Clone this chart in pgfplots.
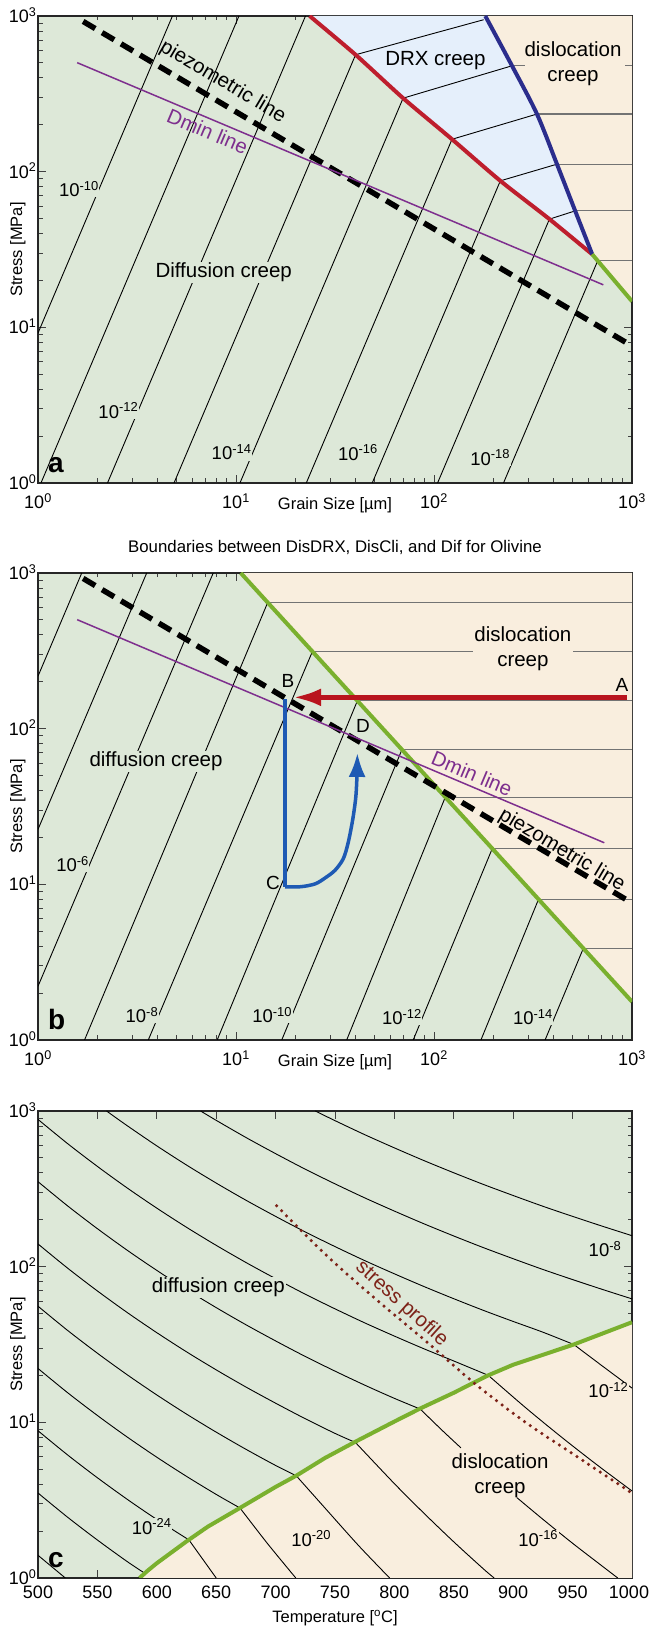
\documentclass[border=0pt]{standalone}
\usepackage{pgfplots}
\pgfplotsset{compat=1.18}
\usepackage{fontspec}
\setmainfont{Liberation Sans}
\usetikzlibrary{arrows.meta}

\definecolor{bggreen}{RGB}{221,232,216}
\definecolor{bgbeige}{RGB}{249,238,222}
\definecolor{bgblue}{RGB}{229,239,251}
\definecolor{lred}{RGB}{190,30,45}
\definecolor{lblue}{RGB}{43,45,140}
\definecolor{lgreen}{RGB}{122,176,46}
\definecolor{lpurple}{RGB}{126,47,142}
\definecolor{arrred}{RGB}{185,20,30}
\definecolor{arrblue}{RGB}{30,90,180}
\definecolor{profile}{RGB}{125,35,25}

\newcommand{\tfont}{\fontsize{18}{20}\selectfont}
\newcommand{\afont}{\fontsize{20.5}{25}\selectfont}
\newcommand{\lfont}{\fontsize{16.5}{19}\selectfont}
\newcommand{\pfont}{\fontsize{19}{22}\selectfont}
\newcommand{\E}[1]{10\textsuperscript{#1}}

\tikzset{
  clab/.style={font=\fontsize{18.5}{20}\selectfont, fill=bggreen, inner sep=0.5pt},
  plet/.style={font=\fontsize{28}{30}\selectfont\bfseries, anchor=base west, inner sep=0pt},
}

\pgfplotsset{
  base/.style={
    scale only axis, width=594pt, height=467pt, anchor=south west,
    ymin=0, ymax=3,
    axis background/.style={fill=bggreen},
    axis line style={draw=black!85, line width=1.2pt},
    tick style={draw=black!75, line width=1pt},
    major tick length=8pt, minor tick length=4.5pt,
    ytick={0,1,2,3}, yticklabels={\E{0},\E{1},\E{2},\E{3}},
    minor ytick={0.301,0.477,0.602,0.699,0.778,0.845,0.903,0.954,1.301,1.477,1.602,1.699,1.778,1.845,1.903,1.954,2.301,2.477,2.602,2.699,2.778,2.845,2.903,2.954},
    tick label style={font=\tfont},
    yticklabel style={anchor=base east, inner xsep=1.5pt, yshift=-6.5pt},
    ylabel={Stress [MPa]},
    ylabel style={font=\lfont, at={(axis description cs:-0.0337,0.5)}, anchor=center},
    scaled ticks=false,
  },
  logx/.style={
    xmin=0, xmax=3, xtick={0,1,2,3}, xticklabels={\E{0},\E{1},\E{2},\E{3}},
    minor xtick={0.301,0.477,0.602,0.699,0.778,0.845,0.903,0.954,1.301,1.477,1.602,1.699,1.778,1.845,1.903,1.954,2.301,2.477,2.602,2.699,2.778,2.845,2.903,2.954},
    xticklabel style={anchor=base, yshift=-26pt},
    xlabel={Grain Size [µm]},
    xlabel style={font=\lfont, at={(axis description cs:0.5,-0.048)}, anchor=center},
  },
  cline/.style={black, line width=0.9pt},
  hline/.style={black!55, line width=1.1pt},
  bnd/.style={line width=4pt},
  piezo/.style={black, line width=5.5pt, dash pattern=on 14pt off 8pt},
  dmin/.style={lpurple, line width=1.5pt},
}

\begin{document}
\begin{tikzpicture}
\useasboundingbox (0,0) rectangle (649pt,1629pt);

%%%%%%%%%%%%%%%% panel a
\begin{axis}[base, logx, at={(38pt,1146pt)}]
\addplot[fill=bgblue, draw=none, smooth, tension=0.4] coordinates {(1.372,3)(1.604,2.751)(1.844,2.472)(2.091,2.208)(2.335,1.941)(2.583,1.695)(2.799,1.469)(2.713,1.748)(2.621,2.048)(2.520,2.370)(2.394,2.680)(2.259,3)} -- cycle;
\addplot[fill=bgbeige, draw=none] coordinates {(2.259,3)(2.394,2.680)(2.520,2.370)(2.621,2.048)(2.713,1.748)(2.799,1.469)(3,1.167)(3,3)} -- cycle;
% strain-rate contours
\addplot[cline] coordinates {(0,0.963)(0.679,3)};
\addplot[cline] coordinates {(0.015,0)(1.015,3)};
\addplot[cline] coordinates {(0.351,0)(1.351,3)};
\addplot[cline] coordinates {(0.687,0)(1.604,2.751)(2.251,2.976)};
\addplot[cline] coordinates {(1.020,0)(1.844,2.472)(2.394,2.680)};
\addplot[cline] coordinates {(1.355,0)(2.091,2.208)(2.520,2.370)};
\addplot[cline] coordinates {(1.688,0)(2.335,1.941)(2.621,2.048)};
\addplot[cline] coordinates {(2.018,0)(2.583,1.695)(2.713,1.748)};
\addplot[cline] coordinates {(2.351,0)(2.827,1.428)};
\addplot[hline] coordinates {(2.394,2.680)(2.460,2.680)};
\addplot[hline] coordinates {(2.965,2.680)(3,2.680)};
\addplot[hline] coordinates {(2.520,2.370)(3,2.370)};
\addplot[hline] coordinates {(2.621,2.048)(3,2.048)};
\addplot[hline] coordinates {(2.713,1.748)(3,1.748)};
\addplot[hline] coordinates {(2.827,1.428)(3,1.428)};
% boundaries
\addplot[bnd, lred, smooth, tension=0.4] coordinates {(1.372,3)(1.604,2.751)(1.844,2.472)(2.091,2.208)(2.335,1.941)(2.583,1.695)(2.799,1.469)};
\addplot[bnd, lblue, smooth, tension=0.5] coordinates {(2.259,3)(2.394,2.680)(2.520,2.370)(2.621,2.048)(2.713,1.748)(2.799,1.469)};
\addplot[bnd, lgreen] coordinates {(2.799,1.469)(3,1.167)};
\addplot[piezo] coordinates {(0.228,2.965)(3,0.880)};
\addplot[dmin] coordinates {(0.198,2.700)(2.855,1.273)};
% labels
\node[font=\afont, rotate=-30.7] at (axis cs:0.933,2.576) {piezometric line};
\node[font=\afont, rotate=-22.9, text=lpurple] at (axis cs:0.857,2.260) {Dmin line};
\node[font=\afont, fill=bggreen, inner sep=1pt] at (axis cs:0.938,1.354) {Diffusion creep};
\node[font=\afont] at (axis cs:2.007,2.711) {DRX creep};
\node[font=\afont, align=center] at (axis cs:2.702,2.695) {dislocation\\creep};
\node[clab] at (axis cs:0.207,1.887) {\E{-10}};
\node[clab] at (axis cs:0.406,0.466) {\E{-12}};
\node[clab] at (axis cs:0.978,0.196) {\E{-14}};
\node[clab] at (axis cs:1.616,0.196) {\E{-16}};
\node[clab] at (axis cs:2.284,0.164) {\E{-18}};
\node[plet] at (axis cs:0.05,0.07) {a};
\end{axis}

%%%%%%%%%%%%%%%% panel b
\begin{axis}[base, logx, at={(38pt,589pt)},
  title={Boundaries between DisDRX, DisCli, and Dif for Olivine},
  title style={font=\fontsize{16.8}{19}\selectfont, at={(axis description cs:0.5,1.0407)}, anchor=center}]
\addplot[fill=bgbeige, draw=none] coordinates {(1.024,3)(3,0.246)(3,3)} -- cycle;
% diffusion contours
\addplot[cline] coordinates {(0,2.337)(0.221,3)};
\addplot[cline] coordinates {(0,1.353)(0.549,3)};
\addplot[cline] coordinates {(0,0.345)(0.885,3)};
\addplot[cline] coordinates {(0.235,0)(1.160,2.810)};
\addplot[cline] coordinates {(0.557,0)(1.386,2.496)};
\addplot[cline] coordinates {(0.905,0)(1.613,2.179)};
\addplot[cline] coordinates {(1.231,0)(1.838,1.865)};
\addplot[cline] coordinates {(1.559,0)(2.057,1.560)};
\addplot[cline] coordinates {(1.895,0)(2.294,1.229)};
\addplot[cline] coordinates {(2.237,0)(2.528,0.904)};
\addplot[cline] coordinates {(2.561,0)(2.754,0.588)};
% dislocation contours
\addplot[hline] coordinates {(1.160,2.810)(3,2.810)};
\addplot[hline] coordinates {(1.386,2.496)(2.197,2.496)};
\addplot[hline] coordinates {(2.702,2.496)(3,2.496)};
\addplot[hline] coordinates {(1.613,2.179)(3,2.179)};
\addplot[hline] coordinates {(1.838,1.865)(3,1.865)};
\addplot[hline] coordinates {(2.057,1.560)(3,1.560)};
\addplot[hline] coordinates {(2.294,1.229)(3,1.229)};
\addplot[hline] coordinates {(2.528,0.904)(3,0.904)};
\addplot[hline] coordinates {(2.754,0.588)(3,0.588)};
\addplot[bnd, lgreen] coordinates {(1.024,3)(3,0.246)};
\addplot[piezo] coordinates {(0.228,2.965)(3,0.880)};
\addplot[dmin] coordinates {(0.198,2.700)(2.860,1.267)};
% paths
\addplot[arrred, line width=5pt, -{Latex[length=28pt,width=18pt]}] coordinates {(2.975,2.201)(1.289,2.201)};
\addplot[arrblue, line width=3.5pt] coordinates {(1.2475,2.19)(1.2475,0.983)};
\addplot[arrblue, line width=3.5pt, smooth, tension=0.5, -{Latex[length=24pt,width=17pt]}] coordinates {(1.2475,0.983)(1.33,0.985)(1.40,1.003)(1.449,1.040)(1.50,1.090)(1.542,1.165)(1.567,1.270)(1.590,1.420)(1.605,1.560)(1.611,1.700)(1.613,1.844)};
% labels
\node[font=\afont, fill=bggreen, inner sep=1pt] at (axis cs:0.596,1.79) {diffusion creep};
\node[font=\afont, align=center] at (axis cs:2.449,2.516) {dislocation\\creep};
\node[font=\afont, rotate=-22.9, text=lpurple] at (axis cs:2.192,1.712) {Dmin line};
\node[font=\afont, rotate=-30.7] at (axis cs:2.646,1.218) {piezometric line};
\node[font=\pfont] at (axis cs:1.263,2.308) {B};
\node[font=\pfont] at (axis cs:2.949,2.282) {A};
\node[font=\pfont] at (axis cs:1.641,2.019) {D};
\node[font=\pfont] at (axis cs:1.187,1.006) {C};
\node[clab] at (axis cs:0.175,1.13) {\E{-6}};
\node[clab] at (axis cs:0.525,0.16) {\E{-8}};
\node[clab] at (axis cs:1.183,0.16) {\E{-10}};
\node[clab] at (axis cs:1.838,0.147) {\E{-12}};
\node[clab] at (axis cs:2.500,0.147) {\E{-14}};
\node[plet] at (axis cs:0.05,0.07) {b};
\end{axis}

%%%%%%%%%%%%%%%% panel c
\begin{axis}[base, at={(38pt,51pt)},
  xmin=500, xmax=1000, xtick={500,550,...,1000},
  xticklabels={500,550,600,650,700,750,800,850,900,950,\hspace*{-6pt}1000},
  xticklabel style={anchor=base, yshift=-20.3pt},
  xlabel={Temperature [\textsuperscript{o}C]},
  xlabel style={font=\lfont, at={(axis description cs:0.5,-0.0857)}, anchor=center}]
\addplot[fill=bgbeige, draw=none] coordinates {(585.5,0)(592,0.045)(600,0.095)(625,0.235)(643,0.33)(670,0.45)(700,0.585)(718,0.66)(741.6,0.771)(766.8,0.874)(800,1.005)(821.5,1.088)(850,1.19)(879,1.302)(900,1.37)(951,1.50)(1000,1.643)(1000,0)} -- cycle;
% diffusion contours
\addplot[cline, smooth] coordinates {(733.4,3)(750,2.938)(775,2.848)(800,2.763)(825,2.681)(850,2.603)(875,2.528)(900,2.457)(925,2.388)(950,2.323)(975,2.260)(1000,2.199)};
\addplot[cline, smooth] coordinates {(636.9,3)(650,2.940)(675,2.830)(700,2.726)(725,2.626)(750,2.532)(775,2.442)(800,2.357)(825,2.275)(850,2.197)(875,2.122)(900,2.051)(925,1.982)(950,1.917)(975,1.854)(1000,1.793)};
\addplot[cline, smooth] coordinates {(557.7,3)(575,2.906)(600,2.776)(625,2.653)(650,2.537)(675,2.427)(700,2.323)(725,2.223)(750,2.129)(775,2.039)(800,1.954)(825,1.872)(850,1.794)(875,1.719)(900,1.648)(925,1.579)(951,1.500)};
\addplot[cline, smooth] coordinates {(500,2.946)(525,2.790)(550,2.644)(575,2.506)(600,2.376)(625,2.253)(650,2.137)(675,2.027)(700,1.923)(725,1.823)(750,1.729)(775,1.639)(800,1.554)(825,1.472)(850,1.394)(879,1.302)};
\addplot[cline, smooth] coordinates {(500,2.546)(525,2.390)(550,2.244)(575,2.106)(600,1.976)(625,1.853)(650,1.737)(675,1.627)(700,1.523)(725,1.423)(750,1.329)(775,1.239)(800,1.154)(821.5,1.086)};
\addplot[cline, smooth] coordinates {(500,2.146)(525,1.990)(550,1.844)(575,1.706)(600,1.576)(625,1.453)(650,1.337)(675,1.227)(700,1.123)(725,1.023)(750,0.929)(766.8,0.872)};
\addplot[cline, smooth] coordinates {(500,1.746)(525,1.590)(550,1.444)(575,1.306)(600,1.176)(625,1.053)(650,0.937)(675,0.827)(700,0.723)(717,0.658)};
\addplot[cline, smooth] coordinates {(500,1.346)(525,1.190)(550,1.044)(575,0.906)(600,0.776)(625,0.653)(650,0.537)(670,0.450)};
\addplot[cline, smooth] coordinates {(500,0.946)(525,0.790)(550,0.644)(575,0.506)(600,0.376)(627,0.245)};
\addplot[cline, smooth] coordinates {(500,0.546)(525,0.390)(550,0.244)(575,0.106)(590,0.030)};
\addplot[cline] coordinates {(500,0.146)(523,0)};
% dislocation contours
\addplot[cline, smooth] coordinates {(951,1.500)(975,1.362)(1000,1.220)};
\addplot[cline, smooth] coordinates {(879,1.302)(910,1.097)(940,0.909)(970,0.730)(1000,0.559)};
\addplot[cline, smooth] coordinates {(821.5,1.087)(840,0.950)(856,0.836)};
\addplot[cline, smooth] coordinates {(903,0.517)(925,0.377)(950,0.223)(975,0.076)(988,0)};
\addplot[cline, smooth] coordinates {(766.8,0.874)(800,0.606)(825,0.415)(850,0.232)(875,0.058)(884,0)};
\addplot[cline, smooth] coordinates {(717,0.660)(740,0.463)(770,0.207)(796,0)};
\addplot[cline, smooth] coordinates {(670,0.450)(693,0.223)(717,0)};
\addplot[cline] coordinates {(627,0.245)(650,0)};
% boundary
\addplot[bnd, lgreen] coordinates {(585.5,0)(592,0.045)(600,0.095)(625,0.235)(643,0.33)(670,0.45)(700,0.585)(718,0.66)(741.6,0.771)(766.8,0.874)(800,1.005)(821.5,1.088)(850,1.19)(879,1.302)(900,1.37)(951,1.50)(1000,1.643)};
% stress profile
\addplot[profile, line width=3.5pt, dash pattern=on 0pt off 7pt, line cap=round, smooth] coordinates {(700.9,2.391)(741.6,2.081)(783,1.800)(825.8,1.526)(867.8,1.248)(909.9,1.002)(952,0.788)(1000,0.545)};
% labels
\node[font=\afont, fill=bggreen, inner sep=1pt] at (axis cs:651.8,1.867) {diffusion creep};
\node[font=\afont, rotate=-42, text=profile] at (axis cs:806.1,1.761) {stress profile};
\node[font=\afont, align=center] at (axis cs:888.9,0.655) {dislocation\\creep};
\node[clab] at (axis cs:977.3,2.113) {\E{-8}};
\node[clab, fill=bgbeige] at (axis cs:980.1,1.205) {\E{-12}};
\node[clab, fill=bgbeige] at (axis cs:921.1,0.254) {\E{-16}};
\node[clab, fill=bgbeige] at (axis cs:730,0.254) {\E{-20}};
\node[clab] at (axis cs:595.7,0.33) {\E{-24}};
\node[plet] at (axis cs:508.4,0.07) {c};
\end{axis}
\end{tikzpicture}
\end{document}
